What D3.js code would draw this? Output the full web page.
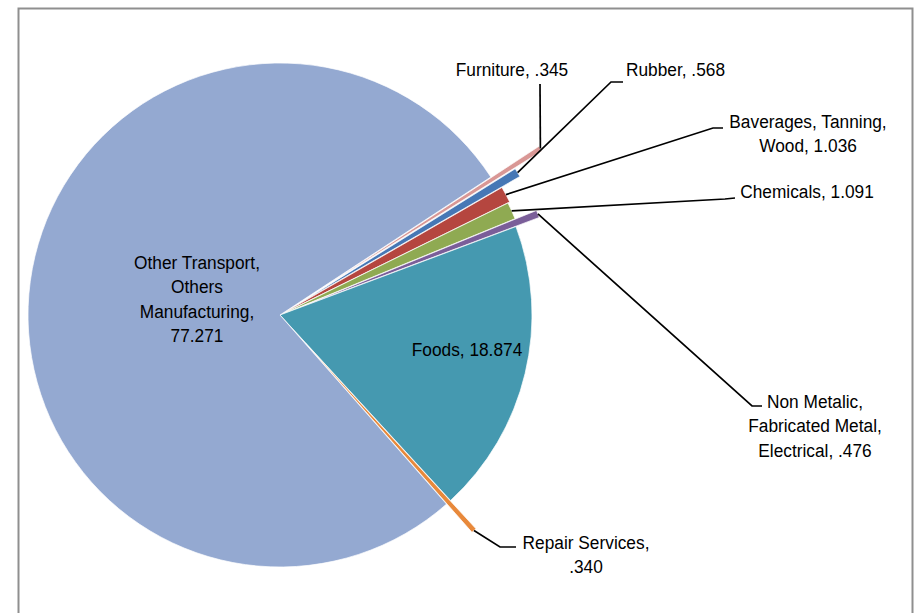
<!DOCTYPE html>
<html>
<head>
<meta charset="utf-8">
<script src="https://cdn.jsdelivr.net/npm/d3@7"></script>
<style>
  html, body { margin: 0; padding: 0; background: #ffffff; }
  svg { display: block; }
  text { font-family: "Liberation Sans", Arial, sans-serif; fill: #000; }
</style>
</head>
<body>
<svg id="chart" width="915" height="613"></svg>
<script>
// ---- data ----
const categories = [
  "Furniture",
  "Rubber",
  "Baverages, Tanning, Wood",
  "Chemicals",
  "Non Metalic, Fabricated Metal, Electrical",
  "Foods",
  "Repair Services",
  "Other Transport, Others Manufacturing"
];
const values = [0.345, 0.568, 1.036, 1.091, 0.476, 18.874, 0.340, 77.271];
const valueLabels = [".345", ".568", "1.036", "1.091", ".476", "18.874", ".340", "77.271"];
const labelLines = [
  ["Furniture, .345"],
  ["Rubber, .568"],
  ["Baverages, Tanning,", "Wood, 1.036"],
  ["Chemicals, 1.091"],
  ["Non Metalic,", "Fabricated Metal,", "Electrical, .476"],
  ["Foods, 18.874"],
  ["Repair Services,", ".340"],
  ["Other Transport,", "Others", "Manufacturing,", "77.271"]
];

// ---- styles ----
const colors = ["#D99795", "#4677B5", "#B5463F", "#8FAA52", "#7A5E99", "#4599B0", "#E8893B", "#94A9D1"];
const explode = [57, 25, 4, 2, 25, 0, 38, 0];

const svg = d3.select("#chart");
const W = 915, H = 613;
const cx = 280, cy = 315, R = 252;
const deg = Math.PI / 180;
const start = 56.8 * deg;

// frame
svg.append("path")
  .attr("d", `M18.5,${H + 5} L18.5,8.5 L912.5,8.5 L912.5,${H + 5}`)
  .attr("fill", "none").attr("stroke", "#8f8f8f").attr("stroke-width", 2);

const pie = d3.pie().sort(null).value(d => d).startAngle(start).endAngle(start + 2 * Math.PI);
const arcs = pie(values);
const arc = d3.arc().innerRadius(0).outerRadius(R);

const g = svg.append("g").attr("transform", `translate(${cx},${cy})`);

function offset(d, i) {
  const a = (d.startAngle + d.endAngle) / 2;
  const r = explode[i];
  return [Math.sin(a) * r, -Math.cos(a) * r];
}

g.selectAll("path.slice")
  .data(arcs)
  .join("path")
  .attr("class", "slice")
  .attr("d", arc)
  .attr("fill", (d, i) => colors[i])
  .attr("stroke", "#ffffff")
  .attr("stroke-width", 0.7)
  .attr("transform", (d, i) => { const o = offset(d, i); return `translate(${o[0]},${o[1]})`; });

// outer point of an exploded slice along its bisector
function tip(d, i) {
  const a = (d.startAngle + d.endAngle) / 2;
  const r = R + explode[i];
  return [cx + Math.sin(a) * r, cy - Math.cos(a) * r];
}

// label layout
const layout = [
  { anchor: "middle", x: 512, y: 76, leader: [[540, 84]] },
  { anchor: "start", x: 626, y: 76, leader: [[611, 82], [623, 82]] },
  { anchor: "middle", x: 808, y: 128, leader: [[713, 128], [723, 128]] },
  { anchor: "middle", x: 807, y: 198, leader: [[725, 199], [735, 198]] },
  { anchor: "middle", x: 815, y: 408, leader: [[752, 406], [762, 406]] },
  { anchor: "middle", x: 467, y: 356, leader: null },
  { anchor: "middle", x: 586, y: 549, leader: [[500, 547], [516, 547]] },
  { anchor: "middle", x: 197, y: 269, leader: null }
];
const lineH = 24.3;
const sx = 0.93;

arcs.forEach((d, i) => {
  const L = layout[i];
  if (L.leader) {
    const pts = [tip(d, i)].concat(L.leader);
    svg.append("path")
      .attr("d", d3.line()(pts))
      .attr("fill", "none")
      .attr("stroke", "#000")
      .attr("stroke-width", 1.7);
  }
  const t = svg.append("text")
    .attr("text-anchor", L.anchor)
    .attr("font-size", 18.6)
    .attr("transform", `translate(${L.x},0) scale(${sx},1)`);
  labelLines[i].forEach((s, k) => {
    t.append("tspan").attr("x", 0).attr("y", L.y + k * lineH).text(s);
  });
});
</script>
</body>
</html>
